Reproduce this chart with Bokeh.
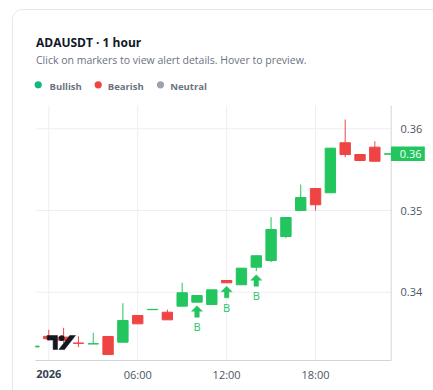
from bokeh.plotting import figure
from bokeh.models import ColumnDataSource
from bokeh.core.properties import value
from bokeh.embed import file_html
from bokeh.resources import INLINE
import math

# ---------------- data ----------------
hours  = [-1, 0, 1, 2, 3, 4, 5, 6, 7, 8, 9, 10, 11, 12, 13, 14, 15, 16, 17, 18, 19, 20, 21, 22, 23]
opens  = [0.33330, 0.33460, 0.33450, 0.33378, 0.33366, 0.33458, 0.33388, 0.33715, 0.33786, 0.33755,
          0.33829, 0.33878, 0.33849, 0.34143, 0.34091, 0.34306, 0.34388, 0.34682, 0.35000, 0.35269,
          0.35217, 0.35829, 0.35685, 0.35775, 0.35690]
highs  = [0.33340, 0.33540, 0.33564, 0.33460, 0.33503, 0.33458, 0.33865, 0.33715, 0.33790, 0.33788,
          0.34115, 0.33960, 0.34029, 0.34143, 0.34294, 0.34446, 0.34918, 0.34914, 0.35318, 0.35269,
          0.35763, 0.36114, 0.35685, 0.35848, 0.35694]
lows   = [0.33330, 0.33410, 0.33380, 0.33327, 0.33366, 0.33237, 0.33388, 0.33613, 0.33786, 0.33662,
          0.33829, 0.33878, 0.33849, 0.34115, 0.34091, 0.34257, 0.34367, 0.34661, 0.35000, 0.35000,
          0.35217, 0.35652, 0.35612, 0.35603, 0.35690]
closes = [0.33340, 0.33430, 0.33410, 0.33374, 0.33370, 0.33237, 0.33654, 0.33613, 0.33790, 0.33662,
          0.33993, 0.33960, 0.34029, 0.34115, 0.34294, 0.34446, 0.34767, 0.34914, 0.35159, 0.35070,
          0.35763, 0.35685, 0.35612, 0.35603, 0.35694]

signal_hours = [10, 12, 14]
signal_texts = ["B", "B", "B"]

x_tick_hours  = [0, 6, 12, 18]
x_tick_labels = ["2026", "06:00", "12:00", "18:00"]
y_ticks       = [0.34, 0.35, 0.36]
y_tick_labels = ["0.34", "0.35", "0.36"]

last_price = 0.35694
last_price_text = "0.36"

title_text = "ADAUSDT \u00b7 1 hour"
subtitle_text = "Click on markers to view alert details. Hover to preview."
legend_names  = ["Bullish", "Bearish", "Neutral"]
legend_colors = ["#10b981", "#ef4444", "#9ca3af"]

# ---------------- geometry / styling ----------------
UP, DOWN = "#22c55e", "#ef4444"
FONT = "Open Sans"
W, H = 433, 390
PANE_L, PANE_R, PANE_T, PANE_B = 35, 390.7, 105, 360     # price pane on the canvas
X0 = -0.897                                              # hour at the pane's left edge
Y1 = 0.362852                                            # price at the pane's top edge
pxh = 14.82                                              # pixels per hour
pxp = 8170.0                                             # pixels per price unit

def dx(px):
    return X0 + (px - PANE_L) / pxh
def dy(py):
    return Y1 - (py - PANE_T) / pxp

p = figure(frame_width=W, frame_height=H, x_range=(dx(0), dx(W)), y_range=(dy(H), dy(0)),
           x_axis_location=None, y_axis_location=None, toolbar_location=None,
           output_backend="svg", title=None, min_border=0)
p.outline_line_color = None
p.background_fill_color = "white"
p.border_fill_color = "white"
p.xgrid.visible = False
p.ygrid.visible = False

# ---- card border (rounded top-left corner) ----
r = 10
arc = [(12 + r - r * math.cos(t), 9 + r - r * math.sin(t))
       for t in [i * math.pi / 2 / 12 for i in range(13)]]
card_pts = [(12, H + 10)] + arc + [(W + 10, 9)]
p.line(x=[dx(a) for a, b in card_pts], y=[dy(b) for a, b in card_pts],
       line_color="#e5e7eb", line_width=1)

# ---- grid & axis lines ----
p.segment(x0=x_tick_hours, x1=x_tick_hours, y0=[dy(PANE_T)] * 4, y1=[dy(PANE_B)] * 4,
          line_color="#eceef2", line_width=1)
p.segment(x0=[dx(PANE_L)] * 3, x1=[dx(PANE_R)] * 3, y0=y_ticks, y1=y_ticks,
          line_color="#eceef2", line_width=1)
p.segment(x0=[dx(PANE_L), dx(PANE_R)], x1=[dx(PANE_R), dx(PANE_R)],
          y0=[dy(PANE_B), dy(PANE_T)], y1=[dy(PANE_B), dy(PANE_B)],
          line_color="#d1d5db", line_width=1)

# ---- tick labels ----
p.text(x=[dx(400)] * len(y_ticks), y=y_ticks, text=y_tick_labels, text_align="left",
       text_baseline="middle", text_color="#4b5563", text_font=value(FONT), text_font_size="11px")
p.text(x=x_tick_hours[1:], y=[dy(373.5)] * 3, text=x_tick_labels[1:], text_align="center",
       text_baseline="middle", text_color="#4b5563", text_font=value(FONT), text_font_size="11px")
p.text(x=x_tick_hours[:1], y=[dy(373.5)], text=x_tick_labels[:1], text_align="center",
       text_baseline="middle", text_color="#374151", text_font=value(FONT), text_font_size="11px",
       text_font_style="bold")

# ---- candles (clipped to the pane) ----
half = 0.35
lo_lim, hi_lim = dx(PANE_L), dx(PANE_R)
colors = [UP if c >= o else DOWN for o, c in zip(opens, closes)]
src = ColumnDataSource(dict(
    left=[max(h - half, lo_lim) for h in hours],
    right=[min(h + half, hi_lim) for h in hours],
    top=[max(o, c) for o, c in zip(opens, closes)],
    bottom=[min(o, c) for o, c in zip(opens, closes)],
    color=colors))
inside = [i for i, h in enumerate(hours) if lo_lim <= h <= hi_lim]
wsrc = ColumnDataSource(dict(x=[hours[i] for i in inside], high=[highs[i] for i in inside],
                             low=[lows[i] for i in inside], color=[colors[i] for i in inside]))
p.segment(x0="x", x1="x", y0="low", y1="high", line_color="color", line_width=1, source=wsrc)
p.quad(left="left", right="right", top="top", bottom="bottom", fill_color="color",
       line_color="color", line_width=1, source=src)

# ---- signal markers (arrow + text below the candle low) ----
low_of = dict(zip(hours, lows))
axs, ays, tx, ty = [], [], [], []
for h in signal_hours:
    tip = low_of[h] - 3.5 / pxp
    hw, sw = 5.5 / pxh, 2.25 / pxh
    head = tip - 5.5 / pxp
    stem = head - 6 / pxp
    axs.append([h, h + hw, h + sw, h + sw, h - sw, h - sw, h - hw])
    ays.append([tip, head, head, stem, stem, head, head])
    tx.append(h)
    ty.append(tip - 21 / pxp)
p.patches(xs=axs, ys=ays, fill_color=UP, line_color=UP, line_width=0.5)
p.text(x=tx, y=ty, text=signal_texts, text_align="center", text_baseline="middle",
       text_color=UP, text_font=value(FONT), text_font_size="11px")

# ---- attribution logo ----
logo_xs = [[dx(v) for v in (46.7, 57, 57, 52.6, 52.6, 46.7)],
           [dx(v) for v in (58.3, 64.0, 75.0, 69.3)]]
logo_ys = [[dy(v) for v in (335, 335, 349, 349, 339.6, 339.6)],
           [dy(v) for v in (349, 349, 335, 335)]]
p.patches(xs=logo_xs, ys=logo_ys, fill_color="#131722", line_color="#131722", line_width=0.5)
p.scatter(x=[dx(61.2)], y=[dy(337.6)], size=5.6, marker="circle", fill_color="#131722",
          line_color=None)

# ---- last price tag ----
p.quad(left=[dx(390.5)], right=[dx(424.3)], top=[last_price + 7.2 / pxp],
       bottom=[last_price - 7.2 / pxp], fill_color=UP, line_color=None)
p.text(x=[dx(399.3)], y=[last_price], text=[last_price_text], text_align="left",
       text_baseline="middle", text_color="white", text_font=value(FONT), text_font_size="11px")

# ---- header ----
p.text(x=[dx(35.5)], y=[dy(42.3)], text=[title_text], text_align="left",
       text_baseline="middle", text_color="#111827", text_font=value(FONT),
       text_font_size="12px", text_font_style="bold")
p.text(x=[dx(35.5)], y=[dy(59.3)], text=[subtitle_text], text_align="left",
       text_baseline="middle", text_color="#6b7280", text_font=value(FONT),
       text_font_size="10.5px")
dot_x = [37.7, 97.7, 160.0]
txt_x = [49.0, 107.3, 169.7]
p.scatter(x=[dx(v) for v in dot_x], y=[dy(84.3)] * 3, size=7.2, marker="circle",
          fill_color=legend_colors, line_color=None)
p.text(x=[dx(v) for v in txt_x], y=[dy(85.5)] * 3, text=legend_names, text_align="left",
       text_baseline="middle", text_color="#6b7280", text_font=value(FONT),
       text_font_size="9.5px", text_font_style="bold")

open("out.html", "w").write(file_html(p, INLINE))
